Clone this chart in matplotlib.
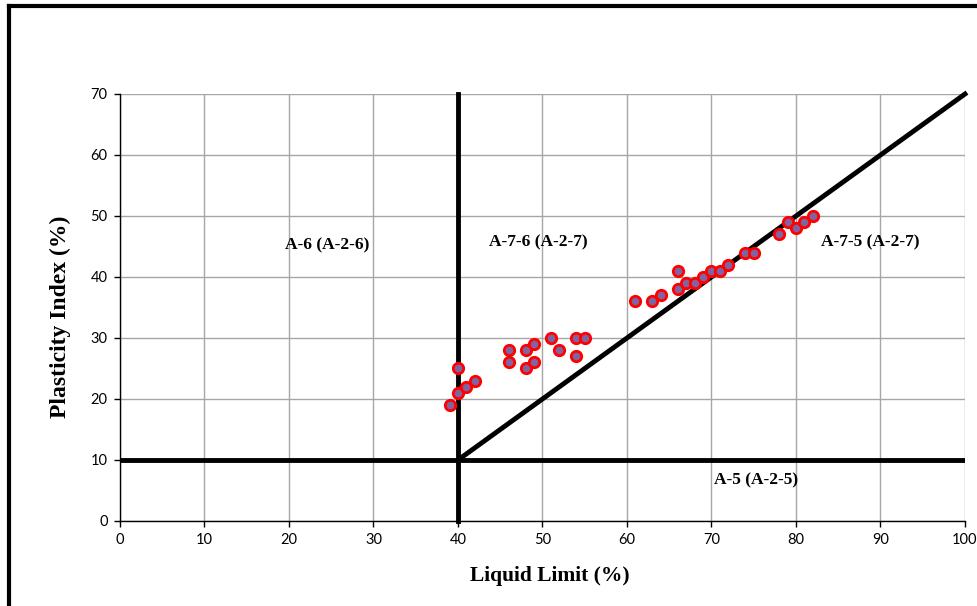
import matplotlib.pyplot as plt
from matplotlib.lines import Line2D

# soil samples (liquid limit, plasticity index)
liquid_limit = [39, 40, 40, 41, 42, 46, 46, 48, 48, 49, 49, 51, 52, 54, 54, 55,
                61, 63, 64, 66, 66, 67, 68, 69, 70, 71, 72, 74, 75, 78, 79, 80, 81, 82]
plasticity_index = [19, 21, 25, 22, 23, 28, 26, 28, 25, 29, 26, 30, 28, 30, 27, 30,
                    36, 36, 37, 38, 41, 39, 39, 40, 41, 41, 42, 44, 44, 47, 49, 48, 49, 50]

# classification boundaries
ll_boundary = 40
pi_boundary = 10
aline_x = [40, 100]
aline_y = [10, 70]

zone_labels = ['A-6 (A-2-6)', 'A-7-6 (A-2-7)', 'A-7-5 (A-2-7)', 'A-5 (A-2-5)']
zone_x = [24.5, 49.5, 88.8, 75.3]
zone_y = [45.2, 45.6, 45.6, 6.6]

x_ticks = list(range(0, 101, 10))
y_ticks = list(range(0, 71, 10))

fig = plt.figure(figsize=(9.78, 6.06), dpi=100)
ax = fig.add_axes([0.1227, 0.1403, 0.8640, 0.7046])

ax.set_xlim(0, 100)
ax.set_ylim(0, 70)
ax.set_xticks(x_ticks)
ax.set_yticks(y_ticks)
ax.grid(True, color='#a6a6a6', linewidth=1.0)
ax.set_axisbelow(True)
for s in ['top', 'right']:
    ax.spines[s].set_visible(False)
for s in ['left', 'bottom']:
    ax.spines[s].set_linewidth(1.0)
    ax.spines[s].set_color('black')
    ax.spines[s].set_zorder(4)
ax.tick_params(direction='out', length=4, width=1, labelsize=10.5, pad=5)
for lbl in ax.get_xticklabels() + ax.get_yticklabels():
    lbl.set_fontfamily('Lato')

# boundary lines
ax.plot([ll_boundary, ll_boundary], [0, 70], color='black', linewidth=3.5, zorder=3, clip_on=False)
ax.plot([0, 100], [pi_boundary, pi_boundary], color='black', linewidth=3.5, zorder=3)
ax.plot(aline_x, aline_y, color='black', linewidth=3.5, zorder=3, clip_on=False)

ax.plot(liquid_limit, plasticity_index, linestyle='none', marker='o', markersize=7.5,
        markerfacecolor='#8064a2', markeredgecolor='red', markeredgewidth=2, zorder=5)

for t, x, y in zip(zone_labels, zone_x, zone_y):
    ax.text(x, y, t, ha='center', va='center', fontsize=12.5, fontweight='bold',
            family='Liberation Serif', zorder=6)

ax.set_xlabel('Liquid Limit (%)', fontsize=15.5, fontweight='bold', family='Liberation Serif')
ax.set_ylabel('Plasticity Index (%)', fontsize=17, fontweight='bold', family='Liberation Serif')
ax.xaxis.set_label_coords(0.509, -0.105)
ax.yaxis.set_label_coords(-0.058, 0.478)

# frame of the original chart area (left and top edges only visible)
fig.add_artist(Line2D([9 / 978, 9 / 978], [0, 600.5 / 606], color='black', linewidth=3))
fig.add_artist(Line2D([9 / 978, 1], [600.5 / 606, 600.5 / 606], color='black', linewidth=3))

fig.savefig('out.png', dpi=100)
